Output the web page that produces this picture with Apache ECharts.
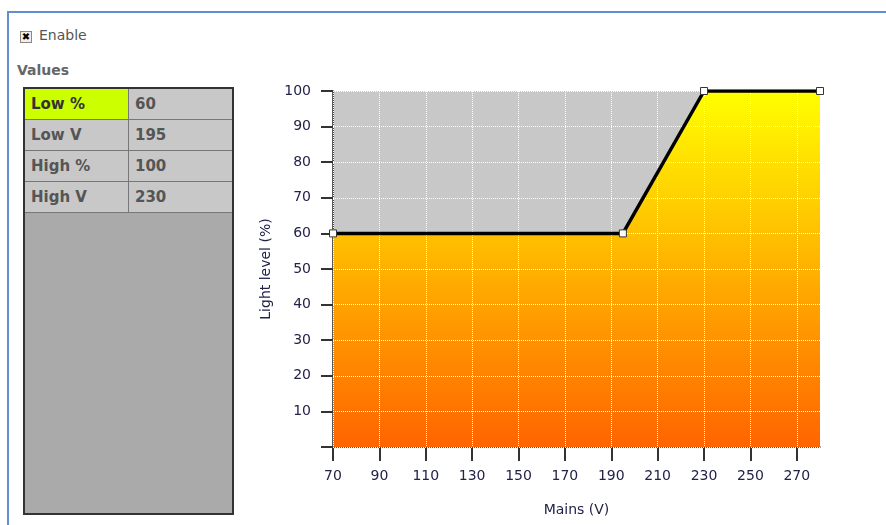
<!DOCTYPE html>
<html>
<head>
<meta charset="utf-8">
<script src="https://cdn.jsdelivr.net/npm/echarts@6/dist/echarts.min.js"></script>
<style>
  html, body {
    margin: 0;
    padding: 0;
    width: 886px;
    height: 525px;
    overflow: hidden;
    background: #fff;
    font-family: 'DejaVu Sans', Verdana, sans-serif;
  }
  .panel {
    position: absolute;
    left: 7px;
    top: 11px;
    width: 900px;
    height: 600px;
    border-left: 2px solid #5f8fd0;
    border-top: 2px solid #5f8fd0;
  }
  .enable {
    position: absolute;
    left: 20px;
    top: 27px;
    font-size: 14px;
    color: #555;
  }
  .box {
    display: inline-block;
    width: 10px;
    height: 10px;
    border: 1px solid #888;
    background: #eee;
    font-size: 10px;
    line-height: 10px;
    text-align: center;
    font-weight: bold;
    color: #000;
    vertical-align: 0px;
    margin-right: 7px;
  }
  .values-title {
    position: absolute;
    left: 17px;
    top: 62px;
    font-size: 14px;
    font-weight: bold;
    color: #666;
  }
  .tbl {
    position: absolute;
    left: 23px;
    top: 87px;
    width: 207px;
    height: 424px;
    background: #aaa;
    border: 2px solid #333;
  }
  .tbl table {
    border-collapse: collapse;
    width: 207px;
  }
  .tbl td {
    height: 30px;
    padding: 0 0 0 6px;
    border: 1px solid #777;
    background: #c8c8c8;
    font-size: 15px;
    font-weight: bold;
    color: #555;
  }
  .tbl tr:first-child td { border-top: none; }
  .tbl td:first-child { width: 97px; border-left: none; }
  .tbl td:last-child { border-right: none; }
  .tbl td.sel { background: #ccff00; color: #333; }
  #chart {
    position: absolute;
    left: 0;
    top: 0;
    width: 886px;
    height: 525px;
  }
</style>
</head>
<body>
<div class="panel"></div>
<div class="enable"><span class="box">✖</span>Enable</div>
<div class="values-title">Values</div>
<div class="tbl"><table id="vals"></table></div>
<div id="chart"></div>
<script>
// curve points: mains voltage vs light level
var voltage = [70, 195, 230, 280]
var level = [60, 60, 100, 100]
var xTicks = [70, 90, 110, 130, 150, 170, 190, 210, 230, 250, 270]

// values table
var tableLabels = ['Low %', 'Low V', 'High %', 'High V']
var tableValues = [60, 195, 100, 230]

var rows = ''
tableLabels.forEach(function (name, i) {
  rows += '<tr><td' + (i === 0 ? ' class="sel"' : '') + '>' + name + '</td><td>' + tableValues[i] + '</td></tr>'
})
document.getElementById('vals').innerHTML = rows

var myChart = echarts.init(document.getElementById('chart'))
var textColor = '#23234a'
var points = voltage.map(function (v, i) { return [v, level[i]] })
var gridLine = { show: true, lineStyle: { color: '#fff', type: 'dotted', width: 1 } }

var option = {
  animation: false,
  textStyle: {
    fontFamily: 'DejaVu Sans'
  },
  grid: {
    left: 333,
    top: 91,
    right: 66,
    bottom: 78,
    show: true,
    backgroundColor: '#c8c8c8',
    borderWidth: 0
  },
  xAxis: [{
    type: 'value',
    min: 70,
    max: 280,
    interval: 20,
    name: 'Mains (V)',
    nameLocation: 'middle',
    nameGap: 56,
    nameTextStyle: {
      color: textColor,
      fontSize: 14
    },
    axisLine: {
      lineStyle: { color: '#222', width: 1.5 }
    },
    axisTick: {
      show: true,
      length: 14,
      customValues: xTicks,
      lineStyle: { color: '#333', width: 2 }
    },
    axisLabel: {
      margin: 22,
      color: textColor,
      fontSize: 14,
      customValues: xTicks
    },
    splitLine: { show: false }
  }, {
    // overlay so the dotted grid shows over the fill
    type: 'value',
    min: 70,
    max: 280,
    interval: 20,
    position: 'bottom',
    z: 2.5,
    axisLine: { show: false },
    axisTick: { show: false },
    axisLabel: { show: false },
    splitLine: gridLine
  }],
  yAxis: [{
    type: 'value',
    min: 0,
    max: 100,
    interval: 10,
    name: 'Light level (%)',
    nameLocation: 'middle',
    nameGap: 60,
    nameTextStyle: {
      color: textColor,
      fontSize: 14
    },
    axisLine: {
      show: true,
      lineStyle: { color: '#222', width: 1.5 }
    },
    axisTick: {
      show: true,
      length: 12,
      lineStyle: { color: '#333', width: 2 }
    },
    axisLabel: {
      margin: 22,
      color: textColor,
      fontSize: 14,
      formatter: function (v) {
        return v === 0 ? '' : v
      }
    },
    splitLine: { show: false }
  }, {
    type: 'value',
    min: 0,
    max: 100,
    interval: 10,
    position: 'left',
    z: 2.5,
    axisLine: { show: false },
    axisTick: { show: false },
    axisLabel: { show: false },
    splitLine: gridLine
  }],
  series: [{
    type: 'line',
    data: points,
    symbol: 'none',
    lineStyle: { width: 0 },
    areaStyle: {
      opacity: 1,
      color: new echarts.graphic.LinearGradient(0, 0, 0, 1, [
        { offset: 0, color: '#ffff00' },
        { offset: 1, color: '#ff6400' }
      ])
    },
    z: 1
  }, {
    type: 'line',
    data: points,
    symbol: 'rect',
    symbolSize: 7,
    showAllSymbol: true,
    lineStyle: {
      color: '#000',
      width: 3.5
    },
    itemStyle: {
      color: '#fff',
      borderColor: '#333',
      borderWidth: 1
    },
    z: 4
  }]
}
myChart.setOption(option)
</script>
</body>
</html>
